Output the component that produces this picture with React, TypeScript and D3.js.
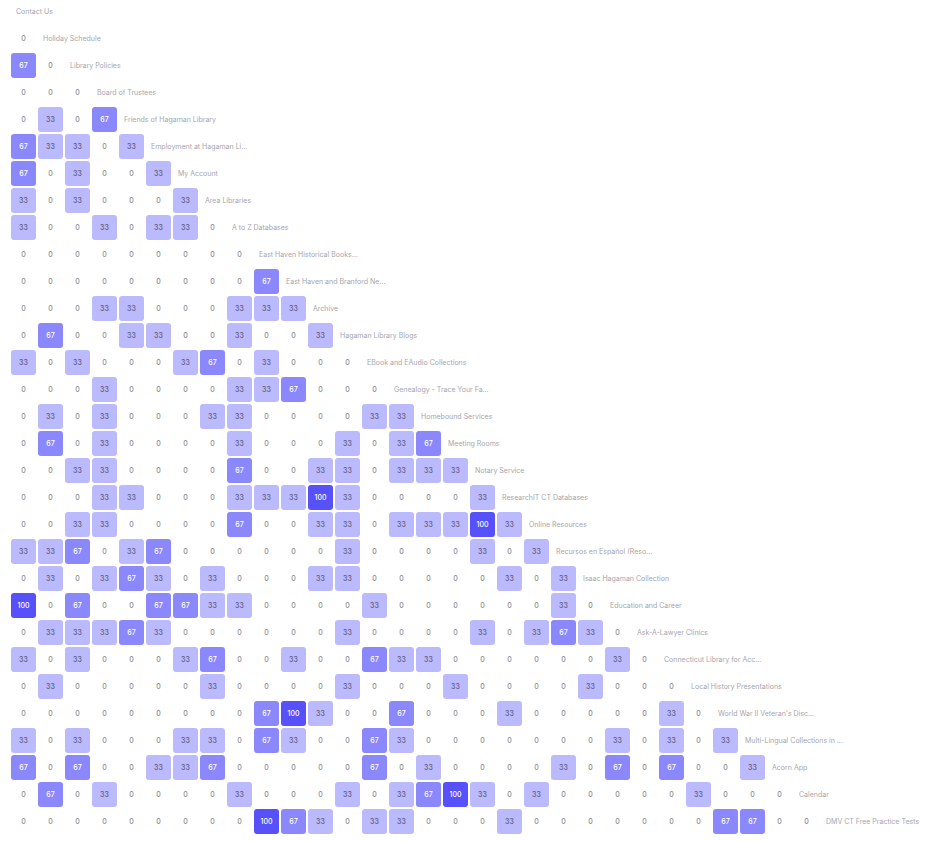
import React from "react";
import * as d3 from "d3";

const labels: string[] = [
  "Contact Us",
  "Holiday Schedule",
  "Library Policies",
  "Board of Trustees",
  "Friends of Hagaman Library",
  "Employment at Hagaman Li...",
  "My Account",
  "Area Libraries",
  "A to Z Databases",
  "East Haven Historical Books...",
  "East Haven and Branford Ne...",
  "Archive",
  "Hagaman Library Blogs",
  "EBook and EAudio Collections",
  "Genealogy - Trace Your Fa...",
  "Homebound Services",
  "Meeting Rooms",
  "Notary Service",
  "ResearchIT CT Databases",
  "Online Resources",
  "Recursos en Español (Reso...",
  "Isaac Hagaman Collection",
  "Education and Career",
  "Ask-A-Lawyer Clinics",
  "Connecticut Library for Acc...",
  "Local History Presentations",
  "World War II Veteran's Disc...",
  "Multi-Lingual Collections in ...",
  "Acorn App",
  "Calendar",
  "DMV CT Free Practice Tests",
];

const matrix: number[][] = [
  [],
  [0],
  [67, 0],
  [0, 0, 0],
  [0, 33, 0, 67],
  [67, 33, 33, 0, 33],
  [67, 0, 33, 0, 0, 33],
  [33, 0, 33, 0, 0, 0, 33],
  [33, 0, 0, 33, 0, 33, 33, 0],
  [0, 0, 0, 0, 0, 0, 0, 0, 0],
  [0, 0, 0, 0, 0, 0, 0, 0, 0, 67],
  [0, 0, 0, 33, 33, 0, 0, 0, 33, 33, 33],
  [0, 67, 0, 0, 33, 33, 0, 0, 33, 0, 0, 33],
  [33, 0, 33, 0, 0, 0, 33, 67, 0, 33, 0, 0, 0],
  [0, 0, 0, 33, 0, 0, 0, 0, 33, 33, 67, 0, 0, 0],
  [0, 33, 0, 33, 0, 0, 0, 33, 33, 0, 0, 0, 0, 33, 33],
  [0, 67, 0, 33, 0, 0, 0, 0, 33, 0, 0, 0, 33, 0, 33, 67],
  [0, 0, 33, 33, 0, 0, 0, 0, 67, 0, 0, 33, 33, 0, 33, 33, 33],
  [0, 0, 0, 33, 33, 0, 0, 0, 33, 33, 33, 100, 33, 0, 0, 0, 0, 33],
  [0, 0, 33, 33, 0, 0, 0, 0, 67, 0, 0, 33, 33, 0, 33, 33, 33, 100, 33],
  [33, 33, 67, 0, 33, 67, 0, 0, 0, 0, 0, 0, 33, 0, 0, 0, 0, 33, 0, 33],
  [0, 33, 0, 33, 67, 33, 0, 33, 0, 0, 0, 33, 33, 0, 0, 0, 0, 0, 33, 0, 33],
  [100, 0, 67, 0, 0, 67, 67, 33, 33, 0, 0, 0, 0, 33, 0, 0, 0, 0, 0, 0, 33, 0],
  [0, 33, 33, 33, 67, 33, 0, 0, 0, 0, 0, 0, 33, 0, 0, 0, 0, 33, 0, 33, 67, 33, 0],
  [33, 0, 33, 0, 0, 0, 33, 67, 0, 0, 33, 0, 0, 67, 33, 33, 0, 0, 0, 0, 0, 0, 33, 0],
  [0, 33, 0, 0, 0, 0, 0, 33, 0, 0, 0, 0, 33, 0, 0, 0, 33, 0, 0, 0, 0, 33, 0, 0, 0],
  [0, 0, 0, 0, 0, 0, 0, 0, 0, 67, 100, 33, 0, 0, 67, 0, 0, 0, 33, 0, 0, 0, 0, 0, 33, 0],
  [33, 0, 33, 0, 0, 0, 33, 33, 0, 67, 33, 0, 0, 67, 33, 0, 0, 0, 0, 0, 0, 0, 33, 0, 33, 0, 33],
  [67, 0, 67, 0, 0, 33, 33, 67, 0, 0, 0, 0, 0, 67, 0, 33, 0, 0, 0, 0, 33, 0, 67, 0, 67, 0, 0, 33],
  [0, 67, 0, 33, 0, 0, 0, 0, 33, 0, 0, 0, 33, 0, 33, 67, 100, 33, 0, 33, 0, 0, 0, 0, 0, 33, 0, 0, 0],
  [0, 0, 0, 0, 0, 0, 0, 0, 0, 100, 67, 33, 0, 33, 33, 0, 0, 0, 33, 0, 0, 0, 0, 0, 0, 0, 67, 67, 0, 0],
];

const levels = [0, 33, 67, 100];
const fills = ["none", "#bcbafe", "#8b88fd", "#5651fb"];
const textColors = ["#8c8c94", "#60607a", "#ffffff", "#ffffff"];

export default function App() {
  const W = 926;
  const H = 841;
  const idx = labels.map((_, i) => i);
  const x = d3
    .scaleBand<number>()
    .domain(idx)
    .range([10, 10 + 27 * labels.length])
    .paddingInner(2 / 27)
    .paddingOuter(1 / 27);
  const y = d3
    .scaleBand<number>()
    .domain(idx)
    .range([-2, -2 + 27 * labels.length])
    .paddingInner(2 / 27)
    .paddingOuter(1 / 27);
  const bw = x.bandwidth();
  const bh = y.bandwidth();
  const levelIndex = d3.scaleOrdinal<number, number>().domain(levels).range([0, 1, 2, 3]);

  return (
    <svg
      width={W}
      height={H}
      style={{ position: "absolute", left: 0, top: 0, background: "#fff" }}
      fontFamily="Inter, 'Noto Sans', sans-serif"
    >
      {matrix.map((row, i) => (
        <g key={i}>
          {row.map((v, j) => {
            const li = levelIndex(v);
            const cx = (x(j) as number) + bw / 2;
            const cy = (y(i) as number) + bh / 2;
            return (
              <g key={j}>
                {v > 0 && (
                  <rect
                    x={x(j)}
                    y={y(i)}
                    width={bw}
                    height={bh}
                    rx={3}
                    ry={3}
                    fill={fills[li]}
                  />
                )}
                <text
                  x={cx}
                  y={cy}
                  textAnchor="middle"
                  dominantBaseline="central"
                  fontSize={7}
                  fontWeight={500}
                  fill={textColors[li]}
                >
                  {v}
                </text>
              </g>
            );
          })}
          <text
            x={(x(i) as number) + 5}
            y={(y(i) as number) + bh / 2}
            dominantBaseline="central"
            fontSize={7}
            fill="#a6a6ad"
          >
            {labels[i]}
          </text>
        </g>
      ))}
    </svg>
  );
}
